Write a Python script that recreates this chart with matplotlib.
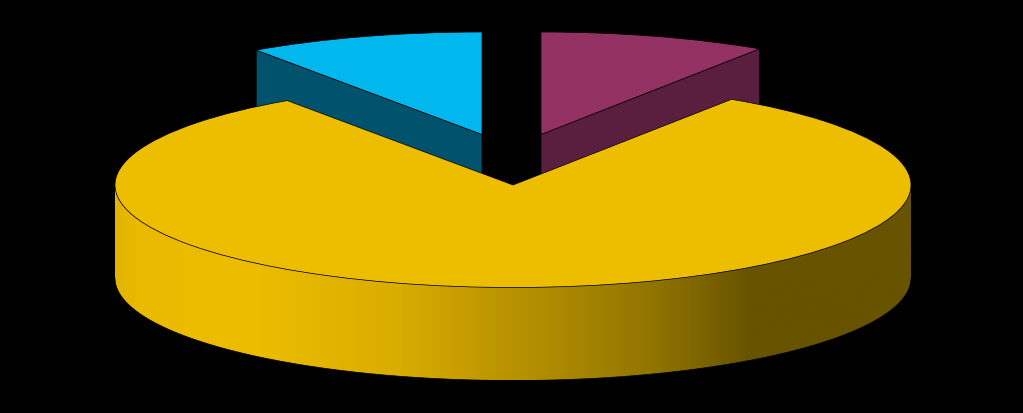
import numpy as np
import matplotlib
matplotlib.use("agg")
from matplotlib import pyplot as plt
from matplotlib.colors import LinearSegmentedColormap
from matplotlib.patches import Polygon

# slices, counter clockwise starting from the right edge of the top gap
slice_names = ["purple", "blue", "gold"]
slice_shares = [9.25, 9.6, 81.15]

top_colors = ["#933162", "#00B8EE", "#EDBE00"]
side_colors = ["#5A1F3E", "#00526D", "#665200"]

# pixel layout of the 3d look
W, H = 1023, 413
CX, CY = 513, 185
RX, RY = 398, 102.5
DEPTH = 93
slice_centers = [(541, 134.5), (482, 134.5), (513, 185)]


def to_data(px, py):
    return (px - CX) / RX, (CY - py) / RY


def edge_point(center, angle):
    a = np.radians(angle)
    return center[0] + np.cos(a), center[1] + np.sin(a)


fig = plt.figure(figsize=(W / 100, H / 100), dpi=100, facecolor="black")
ax = fig.add_axes([0, 0, 1, 1], facecolor="black")

start = 90 - slice_shares[0] / sum(slice_shares) * 360
wedges, _ = ax.pie(
    slice_shares,
    colors=top_colors,
    startangle=start,
    wedgeprops={"edgecolor": "black", "linewidth": 0.5, "zorder": 5},
)

drop = DEPTH / RY
for wedge, pos in zip(wedges, slice_centers):
    wedge.set_center(to_data(*pos))

# cut faces of the two small slices, the gold slice covers their lower part
purple, blue, gold = wedges
for wedge, angle, color in [
    (purple, purple.theta1, side_colors[0]),
    (blue, blue.theta2, side_colors[1]),
]:
    c = wedge.center
    p = edge_point(c, angle)
    ax.add_patch(
        Polygon(
            [c, p, (p[0], p[1] - drop), (c[0], c[1] - drop)],
            facecolor=color,
            edgecolor="black",
            linewidth=0.5,
            zorder=2,
        )
    )

# front wall of the gold slice
t = np.radians(np.linspace(180, 360, 300))
xs = gold.center[0] + np.cos(t)
ys = gold.center[1] + np.sin(t)
wall = Polygon(
    np.r_[np.c_[xs, ys], np.c_[xs[::-1], ys[::-1] - drop]],
    facecolor="none",
    edgecolor="none",
    zorder=3,
)
ax.add_patch(wall)

x0, x1 = to_data(115, 0)[0], to_data(911, 0)[0]
shade = LinearSegmentedColormap.from_list(
    "wall",
    [
        (0.0, "#E4B500"),
        (0.03, "#EABA00"),
        (0.17, "#EDBD00"),
        (0.358, "#D8AC00"),
        (0.5, "#B89300"),
        (0.672, "#927600"),
        (0.80, "#675300"),
        (1.0, "#675300"),
    ],
)
img = ax.imshow(
    np.linspace(0, 1, 400)[None, :],
    cmap=shade,
    extent=(x0, x1, ys.min() - drop, ys.max()),
    aspect="auto",
    interpolation="bilinear",
    zorder=3,
)
img.set_clip_path(wall)

ax.plot(xs, ys - drop, color="black", linewidth=0.5, zorder=4)

ax.set_aspect("auto")
ax.set_xlim(to_data(0, 0)[0], to_data(W, 0)[0])
ax.set_ylim(to_data(0, H)[1], to_data(0, 0)[1])
ax.axis("off")

fig.savefig("out.png", dpi=100, facecolor="black")
